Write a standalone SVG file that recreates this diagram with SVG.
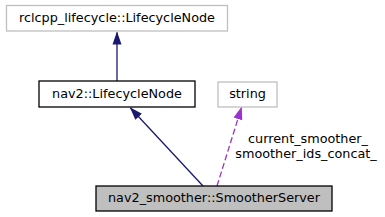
<svg xmlns="http://www.w3.org/2000/svg" width="385" height="217" viewBox="0 0 385 217">
<style>
text{font-family:"DejaVu Sans",sans-serif;font-size:12.8px;fill:#000}
.n{fill:#fff;stroke:#000;stroke-width:1.3}
.g{fill:#fff;stroke:#bfbfbf;stroke-width:1.3}
.e{stroke:#191970;fill:none;stroke-width:1.3}
.d{stroke:#9a32cd;fill:none;stroke-width:1.3;stroke-dasharray:6,3}
</style>
<defs>
<marker id="ah" markerWidth="13" markerHeight="10" refX="12" refY="5" orient="auto" markerUnits="userSpaceOnUse" viewBox="0 0 13 10"><path d="M0,0.5 L13,5 L0,9.5 Z" fill="#191970"/></marker>
<marker id="ap" markerWidth="13" markerHeight="10" refX="12" refY="5" orient="auto" markerUnits="userSpaceOnUse" viewBox="0 0 13 10"><path d="M0,0.5 L13,5 L0,9.5 Z" fill="#9a32cd"/></marker>
</defs>
<g id="connectors">
<path class="e" d="M117,81 L117,32.5" marker-end="url(#ah)"/>
<path class="e" d="M203,186 L130.5,108" marker-end="url(#ah)"/>
<path class="d" d="M217,186 L241.5,107.5" marker-end="url(#ap)"/>
<text x="308" y="143" text-anchor="middle">current_smoother_</text>
<text x="306" y="158" text-anchor="middle">smoother_ids_concat_</text>
</g>
<g id="node-rclcpp">
<rect class="g" x="6.5" y="5.5" width="221" height="25.5"/>
<text x="117" y="22" text-anchor="middle">rclcpp_lifecycle::LifecycleNode</text>
</g>
<g id="node-nav2">
<rect class="n" x="39" y="81" width="156" height="26"/>
<text x="117" y="98" text-anchor="middle">nav2::LifecycleNode</text>
</g>
<g id="node-string">
<rect class="g" x="218" y="82" width="59" height="25"/>
<text x="247.5" y="98" text-anchor="middle">string</text>
</g>
<g id="node-smoother">
<rect x="96" y="186" width="236" height="25" fill="#bfbfbf" stroke="#000" stroke-width="1.3"/>
<text x="214" y="202" text-anchor="middle">nav2_smoother::SmootherServer</text>
</g>
</svg>
